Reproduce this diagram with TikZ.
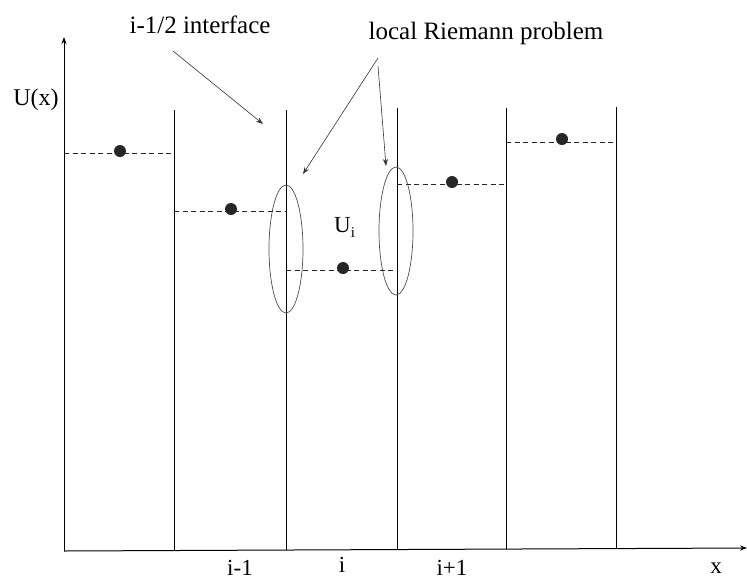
\documentclass[tikz,border=0pt]{standalone}
\usepackage{fontspec}
\setmainfont{Liberation Serif}
\usetikzlibrary{arrows.meta}
\tikzset{
  cellwall/.style={line width=1pt, black},
  level/.style={line width=0.9pt, black!85, dash pattern=on 5pt off 3.5pt},
  dot/.style={circle, fill=black!85, inner sep=0pt, minimum size=12pt},
  ring/.style={line width=0.7pt, black!70},
  pointer/.style={line width=0.6pt, black!80, -{Stealth[length=7pt,width=5pt]}},
  axis/.style={line width=1pt, black, -{Stealth[length=7pt,width=5pt]}},
  toplabel/.style={inner sep=0pt, font=\fontsize{25}{28}\selectfont},
  lab/.style={inner sep=0pt, font=\fontsize{23}{26}\selectfont}
}
\begin{document}
\begin{tikzpicture}[x=1pt,y=-1pt]
\useasboundingbox (0,0) rectangle (747,582);
% axes
\coordinate (O) at (64,551);
\coordinate (ytip) at (64,37);
\coordinate (xtip) at (747,548);
\draw[axis] (O) -- (ytip);
\draw[axis] (O) -- (xtip);
% cell walls
\draw[cellwall] (174,110) -- (174,551);
\draw[cellwall] (286,110) -- (286,550);
\draw[cellwall] (397,108) -- (397,549);
\draw[cellwall] (506,108) -- (506,549);
\draw[cellwall] (616,107) -- (616,548);
% levels
\draw[level] (64,153) -- (174,153);
\draw[level] (174,211) -- (286,211);
\draw[level] (286,270) -- (397,270);
\draw[level] (397,184) -- (506,184);
\draw[level] (506,142) -- (616,142);
\node[dot] (d1) at (120,151) {};
\node[dot] (d2) at (231,209) {};
\node[dot] (d3) at (343,268) {};
\node[dot] (d4) at (452,182) {};
\node[dot] (d5) at (562,139) {};
% ellipses
\draw[ring] (286,249) ellipse [x radius=17, y radius=64];
\draw[ring] (396,231) ellipse [x radius=17, y radius=64];
% labels
\node[toplabel, anchor=base] (iface) at (200,33) {i-1/2 interface};
\node[toplabel, anchor=base] (riem) at (486,39) {local Riemann problem};
\node[lab, font=\fontsize{24}{26}\selectfont, anchor=base] (ux) at (36,105) {U(x)};
\node[lab, anchor=base west] (ui) at (334,232) {U\raisebox{-5pt}{\fontsize{15}{16}\selectfont i}};
\node[lab, anchor=base] (lm) at (240,575) {i-1};
\node[lab, anchor=base] (li) at (342,572) {i};
\node[lab, anchor=base] (lp) at (452,575) {i+1};
\node[lab, anchor=base] (lx) at (716,573) {x};
% pointers
\coordinate (t1) at (173,51);
\coordinate (h1) at (263,124);
\coordinate (t2) at (378,58);
\coordinate (h2) at (303,174);
\coordinate (t3) at (378,66);
\coordinate (h3) at (386,166);
\draw[pointer] (t1) -- (h1);
\draw[pointer] (t2) -- (h2);
\draw[pointer] (t3) -- (h3);
\end{tikzpicture}
\end{document}
